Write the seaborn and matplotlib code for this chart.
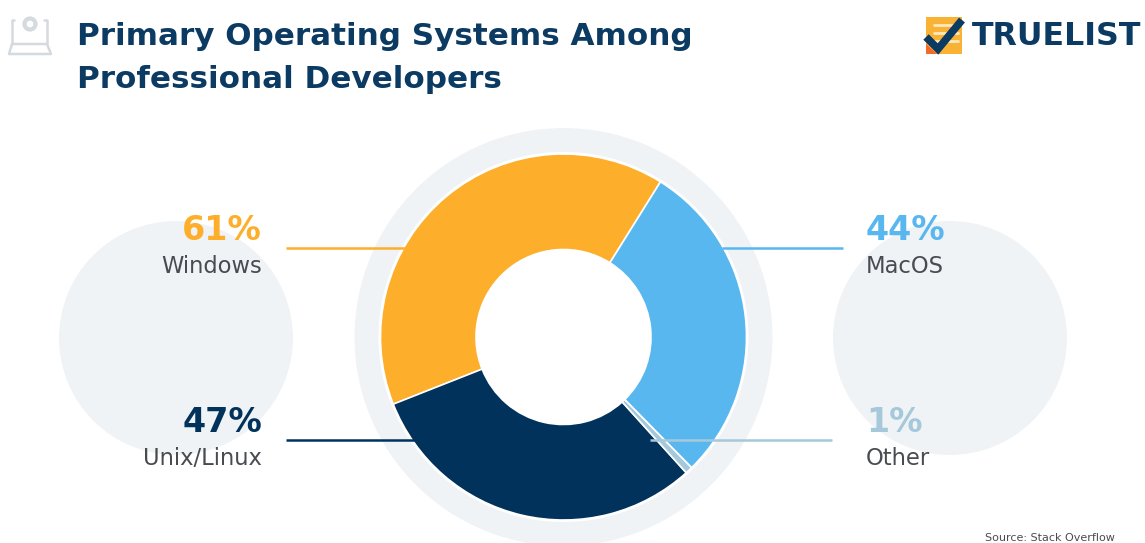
import matplotlib
matplotlib.use("Agg")
import matplotlib.pyplot as plt
from matplotlib.patches import Circle, Polygon, Rectangle
import seaborn as sns

# Survey shares, in percent
systems = ["Windows", "Unix/Linux", "Other", "MacOS"]
shares = [61, 47, 1, 44]
slice_colors = ["#FDAE2A", "#00325C", "#A5C9DA", "#59B7F0"]
title_lines = ["Primary Operating Systems Among", "Professional Developers"]

W, H = 1145, 543
NAVY = "#0B3A62"
GREY_DISC = "#F0F3F5"
LABEL_GREY = "#484C50"

sns.set_theme(style="white")
plt.rcParams["font.family"] = ["DejaVu Sans"]
sns.set_palette(slice_colors)

fig = plt.figure(figsize=(W / 100, H / 100), dpi=100)
ax = fig.add_axes([0, 0, 1, 1])


def py(y):
    """Convert a distance from the top edge into the upward axis coordinate."""
    return H - y


# Pale backdrop discs and the halo around the ring
for cx, cy, r in [(176, 338, 117), (950, 338, 117), (563.5, 337, 209)]:
    ax.add_patch(Circle((cx, py(cy)), r, fc=GREY_DISC, ec="none", zorder=1))
ax.add_patch(Circle((563.5, py(337)), 185, fc="white", ec="none", zorder=1.5))

# Donut
wedges, _ = ax.pie(
    shares,
    colors=sns.color_palette(),
    center=(563.5, py(337)),
    radius=183,
    startangle=58,
    counterclock=True,
    frame=True,
    wedgeprops=dict(width=95.5, edgecolor="white", linewidth=1.2),
)
for wedge in wedges:
    wedge.set_zorder(2)

# Leader lines and callouts
callouts = [
    (0, 286, 405, 248, 262, "right", "#FDAE2A"),
    (1, 286, 415, 440, 262, "right", "#00325C"),
    (3, 722, 843, 248, 866, "left", "#59B7F0"),
    (2, 650, 832, 440, 866, "left", "#A5C9DA"),
]
for i, x0, x1, y, tx, ha, color in callouts:
    ax.plot([x0, x1], [py(y), py(y)], color=color, lw=1.8, zorder=3, solid_capstyle="butt")
    ax.text(tx, py(y - 8), f"{shares[i]}%", color=color, fontsize=24, fontweight="bold",
            ha=ha, va="baseline", zorder=4)
    ax.text(tx, py(y + 25), systems[i], color=LABEL_GREY, fontsize=16.3,
            ha=ha, va="baseline", zorder=4)

# Heading
for line, y in zip(title_lines, (45, 88)):
    ax.text(77, py(y), line, color=NAVY, fontsize=22.3, fontweight="bold", ha="left", va="baseline")

# Laptop pictogram beside the heading
icon = "#D5DADE"
ax.plot([14, 12, 12], [py(20), py(20), py(44)], color=icon, lw=1.8)
ax.plot([44, 47, 47], [py(20), py(20), py(44)], color=icon, lw=1.8)
ax.plot([12, 47, 51, 9, 12], [py(44), py(44), py(54), py(54), py(44)], color=icon, lw=1.8)
ax.add_patch(Circle((30, py(24)), 5.5, fc="none", ec=icon, lw=3))

# Brand mark and wordmark
ax.add_patch(Rectangle((926, py(54)), 36, 37, fc="#F9B233", ec="none", zorder=2))
for y in (25, 33, 41):
    ax.plot([934, 958], [py(y), py(y)], color="#FDE9C0", lw=2, zorder=2.5)
ax.add_patch(Polygon([(926, py(44)), (926, py(54)), (937, py(54))], fc="#F26B2A", ec="none", zorder=2.4))
ax.plot([926, 938, 962], [py(37), py(49), py(20)], color=NAVY, lw=5.5, zorder=3,
        solid_joinstyle="miter", solid_capstyle="butt")
ax.text(972, py(45), "TRUELIST", color=NAVY, fontsize=22.8, fontweight="bold", ha="left", va="baseline")

# Source note along the lower edge
ax.text(985, py(541), "Source: Stack Overflow", color=LABEL_GREY, fontsize=8, ha="left", va="baseline")

ax.set_xlim(0, W)
ax.set_ylim(0, H)
ax.set_aspect("auto")
ax.axis("off")

fig.savefig("out.png", dpi=100, facecolor="white")
